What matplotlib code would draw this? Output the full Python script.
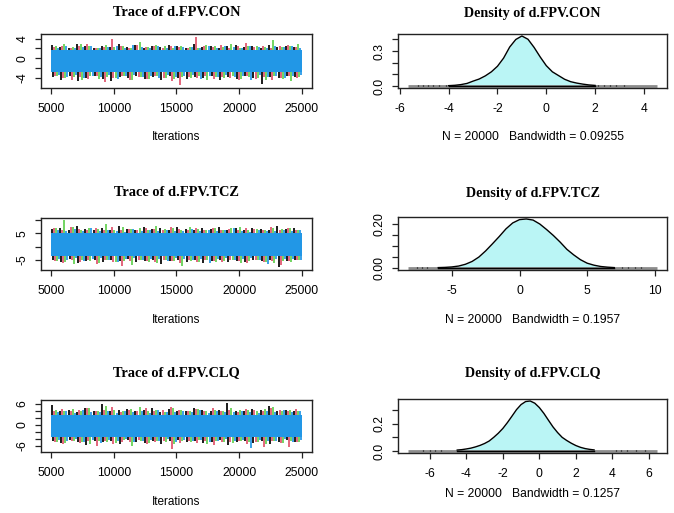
import matplotlib
matplotlib.use("Agg")
import matplotlib.pyplot as plt
import numpy as np

plt.rcParams['font.family'] = ['Liberation Sans', 'DejaVu Sans']
plt.rcParams['axes.unicode_minus'] = False

# ---------------- DATA ----------------
params = ["d.FPV.CON", "d.FPV.TCZ", "d.FPV.CLQ"]
bandwidths = ["0.09255", "0.1957", "0.1257"]
n_samples = 20000
iter_first, iter_last = 5001, 25000
chain_colors = ["black", "#DF536B", "#61D04F", "#2297E6"]

# range of the pooled samples for each parameter
con_range = (-5.67, 4.54)
tcz_range = (-8.24, 10.16)
clq_range = (-7.20, 6.45)

# solid bulk of the chains (lo, hi)
con_core = (-2.9, 1.6)
tcz_core = (-3.6, 5.2)
clq_core = (-3.5, 2.8)

# spike tips of each chain: black, red, green, blue
con_hi = [
    [2.7, 2.3, 2.0, 2.9, 2.4, 2.1, 2.6, 2.2, 3.0, 2.3, 2.8, 2.0, 2.5, 2.2, 2.7, 2.4, 2.1, 2.9, 2.3, 2.6, 2.0, 2.4, 2.8, 2.2, 2.5, 2.1, 2.7, 2.3, 2.6, 2.2],
    [2.2, 2.6, 2.0, 2.4, 2.9, 2.1, 2.3, 4.0, 2.5, 2.0, 2.7, 2.2, 2.4, 2.0, 2.6, 2.3, 2.1, 4.3, 2.4, 2.2, 2.8, 2.0, 2.5, 3.1, 2.2, 2.6, 2.1, 2.4, 2.7, 2.3],
    [2.5, 2.9, 2.2, 3.0, 2.4, 2.1, 2.7, 2.3, 2.6, 2.0, 3.4, 2.2, 2.8, 2.4, 2.1, 2.6, 2.3, 2.0, 2.7, 2.5, 2.2, 2.9, 2.1, 2.4, 2.6, 2.2, 3.8, 2.3, 2.5, 3.0],
    [2.1, 2.4, 2.0, 2.3, 2.6, 2.1, 2.2, 2.5, 2.0, 2.8, 2.3, 2.1, 2.4, 2.0, 2.6, 2.2, 2.3, 2.0, 2.5, 2.1, 2.4, 2.2, 2.0, 2.6, 2.3, 2.1, 2.4, 2.2, 2.5, 2.1],
]
con_lo = [
    [-3.8, -4.4, -3.6, -4.7, -4.0, -3.7, -4.3, -4.6, -3.8, -4.1, -3.6, -4.2, -3.9, -4.4, -3.7, -4.0, -4.3, -3.8, -4.1, -3.6, -4.5, -3.9, -4.2, -3.7, -4.0, -5.3, -3.8, -4.1, -3.7, -3.9],
    [-3.6, -4.0, -4.5, -3.8, -4.2, -3.7, -4.9, -4.1, -3.6, -4.4, -3.9, -4.2, -3.7, -4.0, -4.6, -5.5, -3.8, -4.1, -3.7, -4.3, -3.9, -4.0, -4.4, -3.7, -4.2, -3.8, -4.5, -4.0, -3.6, -4.1],
    [-3.7, -4.1, -3.9, -4.4, -3.6, -4.2, -3.8, -4.0, -3.7, -4.5, -3.9, -4.2, -3.6, -4.0, -4.3, -3.8, -4.1, -3.7, -4.4, -3.9, -4.0, -3.6, -4.2, -3.8, -4.1, -4.4, -3.7, -4.3, -4.6, -3.9],
    [-3.5, -3.8, -3.4, -4.1, -3.6, -3.9, -3.5, -4.3, -3.7, -3.4, -3.8, -3.6, -4.0, -3.5, -3.9, -3.7, -3.4, -4.2, -3.6, -3.8, -3.5, -3.9, -3.7, -4.4, -3.5, -3.8, -3.6, -4.0, -3.7, -3.5],
]
tcz_hi = [
    [6.6, 7.2, 6.3, 7.8, 6.8, 6.4, 7.1, 6.5, 7.9, 6.7, 6.2, 7.3, 6.6, 7.0, 6.4, 7.5, 6.8, 6.3, 7.1, 6.6, 7.4, 6.5, 6.9, 6.2, 7.2, 6.7, 6.4, 8.0, 6.6, 6.9],
    [6.9, 6.4, 7.3, 6.7, 6.2, 7.0, 6.5, 7.6, 6.3, 6.8, 6.4, 7.1, 6.6, 6.2, 7.4, 6.7, 6.3, 6.9, 6.5, 7.2, 6.4, 6.8, 6.2, 7.0, 6.6, 6.3, 7.5, 6.5, 6.9, 6.4],
    [7.0, 10.0, 7.6, 6.5, 7.2, 6.8, 8.5, 6.4, 7.3, 6.7, 7.0, 6.3, 7.7, 6.6, 6.9, 6.4, 7.4, 6.8, 6.2, 7.1, 6.5, 6.9, 7.5, 6.4, 6.8, 6.3, 7.2, 6.6, 7.0, 6.5],
    [6.2, 5.8, 6.6, 6.0, 7.2, 5.9, 6.4, 6.1, 5.7, 6.8, 6.0, 6.3, 5.8, 6.5, 6.1, 5.9, 6.7, 6.0, 6.2, 5.8, 6.4, 6.9, 6.0, 5.7, 6.3, 6.1, 5.9, 6.5, 6.0, 6.2],
]
tcz_lo = [
    [-5.2, -5.8, -4.9, -6.3, -5.5, -5.0, -6.0, -5.3, -5.7, -4.9, -6.1, -5.4, -5.1, -6.5, -5.6, -5.0, -5.9, -5.3, -6.2, -5.5, -5.1, -5.8, -5.4, -6.0, -5.2, -5.7, -5.0, -7.8, -5.5, -5.3],
    [-5.5, -6.2, -5.0, -5.8, -5.3, -6.6, -5.1, -5.9, -7.6, -5.4, -5.0, -5.7, -6.1, -5.2, -5.6, -6.4, -5.3, -5.9, -5.0, -5.5, -6.0, -5.2, -5.7, -6.3, -5.1, -5.8, -5.4, -6.9, -5.6, -5.2],
    [-5.4, -5.9, -6.6, -5.2, -5.7, -6.3, -5.1, -6.0, -5.5, -7.0, -5.3, -5.8, -6.2, -5.0, -5.6, -7.3, -5.4, -5.9, -5.2, -6.1, -5.5, -5.0, -6.4, -5.7, -5.3, -5.9, -6.2, -5.4, -5.8, -5.1],
    [-4.6, -5.0, -4.4, -5.6, -4.8, -4.5, -5.2, -6.0, -4.7, -4.4, -5.1, -4.6, -4.9, -5.4, -4.5, -4.8, -5.0, -4.6, -6.3, -4.7, -4.4, -5.2, -4.8, -4.5, -5.0, -6.5, -4.6, -4.9, -4.7, -5.1],
]
clq_hi = [
    [5.5, 3.9, 4.3, 3.7, 4.6, 4.0, 5.8, 3.8, 4.2, 4.5, 3.9, 4.1, 4.8, 3.7, 4.4, 4.0, 3.8, 4.6, 4.1, 3.9, 4.3, 6.2, 4.0, 3.8, 4.5, 4.1, 5.3, 3.9, 4.2, 4.0],
    [4.0, 4.4, 3.8, 4.1, 4.6, 3.9, 4.2, 4.9, 3.7, 4.3, 4.0, 4.7, 3.8, 4.2, 5.0, 4.1, 3.9, 4.4, 3.8, 4.6, 4.0, 4.3, 3.7, 4.5, 4.1, 3.9, 4.8, 4.2, 3.8, 4.4],
    [4.2, 3.8, 4.5, 4.0, 4.7, 3.9, 5.2, 4.1, 3.8, 4.4, 4.9, 4.0, 4.3, 3.7, 4.6, 4.1, 3.9, 4.5, 4.0, 4.2, 3.8, 4.7, 4.1, 4.3, 3.9, 4.5, 5.0, 4.0, 4.2, 3.8],
    [3.6, 3.9, 3.4, 4.2, 3.7, 3.5, 3.9, 3.3, 4.0, 3.6, 3.8, 3.4, 4.3, 3.7, 3.5, 3.9, 3.6, 4.1, 3.4, 3.8, 3.6, 3.5, 4.0, 3.7, 3.4, 3.9, 3.6, 4.2, 3.5, 3.8],
]
clq_lo = [
    [-4.6, -5.2, -4.4, -4.9, -5.8, -4.5, -5.0, -4.7, -5.4, -4.3, -4.8, -5.1, -4.5, -5.6, -4.7, -4.4, -5.0, -4.6, -5.3, -4.8, -4.4, -5.7, -4.9, -4.5, -5.1, -4.6, -5.5, -4.8, -4.4, -5.0],
    [-4.9, -5.6, -4.5, -5.2, -4.7, -6.0, -4.6, -5.4, -4.8, -5.0, -4.4, -5.5, -4.9, -4.6, -7.0, -5.1, -4.7, -5.3, -4.5, -5.8, -4.8, -5.0, -4.6, -5.4, -4.9, -6.2, -4.7, -5.1, -6.4, -5.0],
    [-4.8, -5.3, -4.5, -5.0, -5.6, -4.6, -4.9, -5.2, -4.4, -6.0, -4.7, -5.1, -4.5, -4.8, -5.4, -4.6, -5.0, -4.4, -5.5, -4.7, -4.9, -5.2, -4.5, -5.0, -4.8, -5.6, -4.6, -5.1, -4.7, -4.9],
    [-4.3, -4.7, -4.2, -4.9, -4.4, -5.3, -4.3, -4.6, -4.2, -4.8, -4.5, -4.3, -4.7, -4.2, -5.0, -4.4, -4.6, -4.3, -4.8, -4.5, -4.2, -4.6, -4.4, -6.7, -4.3, -4.7, -4.5, -4.2, -4.9, -4.4],
]

# kernel density estimates
con_dens_x = [-4.0, -3.75, -3.5, -3.25, -3.0, -2.75, -2.5, -2.25, -2.0, -1.75, -1.5, -1.25, -1.0,
              -0.75, -0.5, -0.25, 0.0, 0.25, 0.5, 0.75, 1.0, 1.25, 1.5, 1.75, 2.0]
con_dens_y = [0.003, 0.006, 0.012, 0.022, 0.042, 0.060, 0.087, 0.122, 0.170, 0.240, 0.335, 0.400, 0.430,
              0.402, 0.332, 0.250, 0.175, 0.122, 0.090, 0.058, 0.037, 0.025, 0.016, 0.009, 0.005]
tcz_dens_x = [-6.0, -5.5, -5.0, -4.5, -4.0, -3.5, -3.0, -2.5, -2.0, -1.5, -1.0, -0.5, 0.0, 0.5,
              1.0, 1.5, 2.0, 2.5, 3.0, 3.5, 4.0, 4.5, 5.0, 5.5, 6.0, 6.5, 7.0]
tcz_dens_y = [0.002, 0.003, 0.005, 0.009, 0.017, 0.030, 0.050, 0.078, 0.110, 0.143, 0.178, 0.205, 0.220, 0.223,
              0.218, 0.200, 0.175, 0.148, 0.118, 0.085, 0.060, 0.038, 0.022, 0.013, 0.007, 0.004, 0.002]
clq_dens_x = [-4.5, -4.25, -4.0, -3.75, -3.5, -3.25, -3.0, -2.75, -2.5, -2.25, -2.0, -1.75, -1.5, -1.25,
              -1.0, -0.75, -0.5, -0.25, 0.0, 0.25, 0.5, 0.75, 1.0, 1.25, 1.5, 1.75, 2.0, 2.25, 2.5, 2.75, 3.0]
clq_dens_y = [0.007, 0.010, 0.015, 0.021, 0.030, 0.041, 0.055, 0.073, 0.100, 0.130, 0.165, 0.208, 0.255, 0.303,
              0.340, 0.362, 0.366, 0.350, 0.318, 0.275, 0.225, 0.176, 0.135, 0.100, 0.077, 0.057, 0.040, 0.027, 0.018, 0.012, 0.008]

# isolated observations in the tails
con_rug = [-5.25, -5.05, -4.85, -4.65, -4.4, -4.1, 2.1, 2.35, 2.6, 2.85, 3.2]
tcz_rug = [-7.6, -7.2, -6.8, 7.6, 8.0, 8.5, 9.0]
clq_rug = [-6.4, -6.0, -5.7, -5.4, 4.2, 4.5, 4.8, 5.3, 5.8]

# y ticks: (positions, labels shown)
trace_ticks = [([-4, -2, 0, 2, 4], ["-4", "", "0", "", "4"]),
               ([-5, 0, 5, 10], ["-5", "", "5", ""]),
               ([-6, -4, -2, 0, 2, 4, 6], ["-6", "", "", "0", "", "", "6"])]
dens_yticks = [([0.0, 0.1, 0.2, 0.3, 0.4], ["0.0", "", "", "0.3", ""]),
               ([0.0, 0.05, 0.10, 0.15, 0.20], ["0.00", "", "", "", "0.20"]),
               ([0.0, 0.1, 0.2, 0.3], ["0.0", "", "0.2", ""])]
dens_xticks = [[-6, -4, -2, 0, 2, 4], [-5, 0, 5, 10], [-6, -4, -2, 0, 2, 4, 6]]

ranges = [con_range, tcz_range, clq_range]
cores = [con_core, tcz_core, clq_core]
his = [con_hi, tcz_hi, clq_hi]
los = [con_lo, tcz_lo, clq_lo]
dens = [(con_dens_x, con_dens_y), (tcz_dens_x, tcz_dens_y), (clq_dens_x, clq_dens_y)]
rugs = [con_rug, tcz_rug, clq_rug]

# ---------------- LAYOUT (pixels) ----------------
W, H = 674, 513
fig = plt.figure(figsize=(W / 100, H / 100), dpi=100)
fig.patch.set_facecolor("white")

trace_boxes = [(41, 34, 312, 88), (41, 218, 312, 270), (41, 400, 312, 452)]
dens_boxes = [(398, 34, 667, 88), (398, 217, 667, 270), (398, 399, 667, 453)]
title_y = [13, 193, 373]
iter_y = [137, 320, 502]
sub_y = [137, 320, 494]

TICK = 8.7


def px_axes(box):
    l, t, r, b = box
    return fig.add_axes([l / W, 1 - b / H, (r - l) / W, (b - t) / H])


def r_style(ax):
    for s in ax.spines.values():
        s.set_linewidth(1.0)
        s.set_color("#222222")
    ax.tick_params(direction="out", length=4.5, width=0.9, labelsize=TICK, pad=6, color="#222222")
    ax.tick_params(axis="y", pad=4.5)
    for lab in ax.get_yticklabels():
        lab.set_rotation(90)
        lab.set_va("center")


def pad(lo, hi, f=0.04):
    w = hi - lo
    return lo - f * w, hi + f * w


for i, name in enumerate(params):
    lo_r, hi_r = ranges[i]

    # ---------------- TRACE ----------------
    ax = px_axes(trace_boxes[i])
    for k, col in enumerate(chain_colors):
        n = len(his[i][k])
        xs = np.linspace(iter_first + 60, iter_last - 620, n)
        step = xs[1] - xs[0]
        xs = xs + k * step / 4
        if k == 3:
            ax.fill_between([iter_first, iter_last], cores[i][0], cores[i][1],
                            color=col, lw=0)
        ax.vlines(xs, cores[i][1], his[i][k], color=col, lw=1.25)
        ax.vlines(xs + step / 8, los[i][k], cores[i][0], color=col, lw=1.25)
    ax.set_xlim(*pad(iter_first, iter_last))
    ax.set_ylim(*pad(lo_r, hi_r))
    ax.set_xticks([5000, 10000, 15000, 20000, 25000])
    ax.set_yticks(trace_ticks[i][0])
    ax.set_yticklabels(trace_ticks[i][1])
    r_style(ax)
    cx = (trace_boxes[i][0] + trace_boxes[i][2]) / 2
    fig.text(cx / W, 1 - title_y[i] / H, "Trace of " + name, ha="center", va="center",
             family=["Liberation Serif"], weight="bold", fontsize=10.4)
    fig.text(cx / W, 1 - iter_y[i] / H, "Iterations", ha="center", va="center", fontsize=8.5)

    # ---------------- DENSITY ----------------
    ax = px_axes(dens_boxes[i])
    dx, dy = dens[i]
    ax.plot([lo_r, hi_r], [0, 0], color="#8c8c8c", lw=2.0, solid_capstyle="butt")
    ax.vlines(rugs[i], 0, max(dy) * 0.012, color="black", lw=0.9)
    ax.fill_between(dx, dy, 0, color="#BAF5F5", lw=0)
    ax.plot(dx, dy, color="black", lw=1.0)
    ax.plot([dx[0], dx[-1]], [0, 0], color="black", lw=1.0)
    ax.set_xlim(*pad(lo_r, hi_r))
    ax.set_ylim(*pad(0, max(dy)))
    ax.set_xticks(dens_xticks[i])
    ax.set_yticks(dens_yticks[i][0])
    ax.set_yticklabels(dens_yticks[i][1])
    r_style(ax)
    cx = (dens_boxes[i][0] + dens_boxes[i][2]) / 2
    fig.text(cx / W, 1 - title_y[i] / H, "Density of " + name, ha="center", va="center",
             family=["Liberation Serif"], weight="bold", fontsize=10.2)
    fig.text(cx / W, 1 - sub_y[i] / H,
             "N = %d   Bandwidth = %s" % (n_samples, bandwidths[i]),
             ha="center", va="center", fontsize=8.7)

fig.savefig("out.png", dpi=100, facecolor="white")
